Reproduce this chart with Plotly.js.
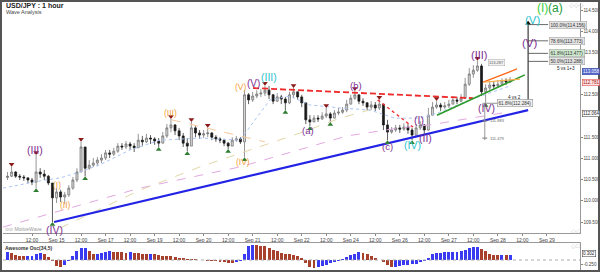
<!DOCTYPE html>
<html><head><meta charset="utf-8">
<script src="https://cdn.plot.ly/plotly-3.0.1.min.js"></script>
<style>html,body{margin:0;padding:0;background:#fff;}#chart{width:600px;height:272px;}</style>
</head><body><div id="chart"></div>
<script>
// ---------- DATA ----------
const tickIndex = [6,12,18,24,30,36,42,48,54,60,66,72,78,84,90,96,102,108,114,120,126,132];
const tickLabels = ['12:00','Sep 15','12:00','Sep 17','12:00','Sep 19','12:00','Sep 20','12:00','Sep 21','12:00','Sep 22','12:00','Sep 24','12:00','Sep 26','12:00','Sep 27','12:00','Sep 28','12:00','Sep 29'];
const priceTicks = [109.5,110,110.5,111,111.5,112.5,113.5,114,114.5];
const priceTickLabels = ['109.500','110.000','110.500','111.000','111.500','112.500','113.500','114.000','114.500'];

const firstOpen = 110.55;
const closes = [110.58,110.68,110.58,110.56,110.54,110.49,110.44,110.68,110.63,110.58,
 110.42,110.07,110.21,110.09,110.14,110.30,110.49,110.68,111.27,110.77,
 110.84,110.89,110.96,111.01,111.13,111.10,111.17,111.29,111.27,111.34,
 111.29,111.25,111.43,111.39,111.48,111.46,111.41,111.36,111.53,111.72,
 111.79,111.65,111.53,111.36,111.29,111.72,111.60,111.55,111.58,111.60,
 111.50,111.46,111.43,111.36,111.29,111.43,111.46,111.39,112.50,112.38,
 112.47,112.52,112.54,112.61,112.50,112.35,112.45,112.40,112.31,112.50,
 112.57,112.45,112.31,111.91,111.86,111.95,111.93,112.00,112.05,111.95,
 112.07,112.09,112.14,112.28,112.42,112.50,112.35,112.31,112.21,112.26,
 112.19,112.28,111.79,111.62,111.67,111.72,111.69,111.74,111.67,111.55,
 111.72,111.79,111.67,112.02,112.21,112.26,112.21,112.24,112.28,112.38,
 112.35,112.42,112.75,112.99,113.08,113.18,112.57,112.66,112.73,112.71,
 112.75,112.83,112.80,112.85];
const highs = [110.68,110.80,110.70,110.63,110.61,110.56,110.54,111.08,110.77,110.73,
 110.61,110.42,110.30,110.26,110.21,110.37,110.56,110.77,111.39,111.27,
 110.96,111.01,111.03,111.10,111.20,111.20,111.25,111.36,111.36,111.41,
 111.39,111.36,111.58,111.53,111.58,111.55,111.50,111.48,111.62,111.81,
 111.93,111.81,111.72,111.60,111.48,111.86,111.76,111.67,111.67,111.72,
 111.62,111.55,111.50,111.46,111.39,111.50,111.53,111.50,112.61,112.54,
 112.57,112.61,112.64,112.71,112.71,112.52,112.54,112.50,112.45,112.57,
 112.66,112.57,112.50,112.31,112.02,112.02,112.02,112.09,112.19,112.09,
 112.14,112.19,112.21,112.38,112.50,112.59,112.50,112.42,112.33,112.35,
 112.33,112.38,112.28,111.91,111.74,111.79,111.79,111.83,111.81,111.72,
 111.81,111.88,111.81,112.19,112.33,112.35,112.31,112.33,112.38,112.47,
 112.45,112.52,112.90,113.13,113.20,113.30,113.23,112.75,112.83,112.80,
 112.85,112.89,112.89,112.92];
const lows = [110.49,110.56,110.54,110.49,110.47,110.42,110.37,110.30,110.54,110.49,
 110.37,109.50,109.95,109.97,109.92,110.09,110.26,110.44,110.68,110.58,
 110.73,110.80,110.82,110.89,110.96,111.01,111.06,111.13,111.20,111.22,
 111.20,111.15,111.25,111.29,111.36,111.34,111.32,111.27,111.36,111.48,
 111.62,111.55,111.43,111.27,111.17,111.29,111.50,111.46,111.48,111.50,
 111.43,111.39,111.36,111.29,111.22,111.32,111.39,111.34,111.03,112.28,
 112.33,112.42,112.45,112.47,112.40,112.28,112.33,112.28,112.14,112.28,
 112.42,112.38,112.21,111.81,111.76,111.86,111.86,111.91,111.95,111.86,
 111.95,112.02,112.05,112.09,112.28,112.38,112.28,112.24,112.14,112.14,
 112.12,112.14,111.67,111.43,111.58,111.62,111.60,111.65,111.58,111.43,
 111.53,111.67,111.55,111.65,112.09,112.17,112.12,112.17,112.19,112.28,
 112.28,112.33,112.40,112.71,112.90,113.04,112.47,112.31,112.61,112.64,
 112.66,112.73,112.73,112.78];

const aoValues = [0.50,0.45,0.30,0.25,0.22,0.24,0.26,0.40,0.44,0.38,
 0.20,-0.05,-0.35,-0.44,-0.30,-0.05,0.25,0.55,0.72,0.75,
 0.55,0.35,0.38,0.45,0.52,0.56,0.52,0.48,0.47,0.46,
 0.47,0.45,0.42,0.40,0.38,0.38,0.36,0.30,0.27,0.24,
 0.22,0.18,0.14,0.12,0.08,0.07,0.06,0.03,-0.02,-0.05,
 -0.06,-0.08,-0.10,-0.13,-0.17,-0.19,-0.12,-0.04,0.40,0.85,
 0.94,0.93,0.90,0.85,0.75,0.65,0.58,0.45,0.40,0.37,
 0.33,0.25,0.15,-0.20,-0.45,-0.50,-0.46,-0.40,-0.30,-0.20,
 -0.12,-0.05,0.05,0.20,0.31,0.40,0.48,0.45,0.35,0.25,
 0.12,0.02,-0.10,-0.30,-0.44,-0.42,-0.38,-0.34,-0.30,-0.28,
 -0.22,-0.15,-0.08,0.10,0.35,0.44,0.45,0.48,0.50,0.50,
 0.52,0.55,0.62,0.72,0.80,0.84,0.70,0.55,0.40,0.33,
 0.31,0.31,0.30,0.30];

// swing markers (bar indices)
const swingHighIdx = [1,7,18,40,45,49,63,70,78,85,91,105,115];
const swingLowIdx = [7,11,19,37,44,54,58,68,74,79,93,99,117];

// drawn lines (bar index, price)
const blueTrendX = [11.4, 127.4], blueTrendY = [109.50, 112.14];
const redDashX = [60.1, 113.9], redDashY = [112.66, 112.42];
const redDotX = [90.6, 99.2], redDotY = [112.38, 111.74];
const greenLineX = [105.1, 126.6], greenLineY = [112.02, 112.97];
const orangeLineX = [116.4, 124.7], orangeLineY = [112.80, 113.11];
const lightOrangeX = [116.8, 125.4], lightOrangeY = [112.80, 112.87];
const peachDashX = [40.2, 63.0], peachDashY = [111.91, 111.39];
const pinkMaX = [-1.1, 32.4, 56.9, 71.6, 83.1, 96.0, 103.4, 122.2];
const pinkMaY = [109.38, 110.30, 110.80, 111.20, 111.53, 111.72, 111.79, 112.09];
const beigeMaX = [12.9, 32.4, 47.1, 61.8, 71.6, 81.4, 91.1];
const beigeMaY = [109.36, 110.25, 110.80, 111.27, 111.60, 111.95, 112.21];
const blueMaX = [-1.1, 8.0, 12.9, 17.7, 22.6, 30.0, 37.3, 47.1, 56.9, 60.6, 64.2, 69.1, 74.0, 81.4, 88.7, 94.8, 100.9, 105.8, 113.2, 123.0];
const blueMaY = [110.30, 110.47, 110.54, 110.68, 110.85, 111.20, 111.43, 111.48, 111.43, 111.91, 112.38, 112.47, 112.26, 112.19, 112.14, 111.95, 111.95, 112.09, 112.38, 112.71];

// Fibonacci projection
const fibLevels = [114.156, 113.773, 113.477, 113.288];
const fibTexts = ['100.0%(114.156)', '78.6%(113.773)', '61.8%(113.477)', '50.0%(113.288)'];
const measureX = 127.4, measureTop = 114.19, measureBottom = 112.38;

// ---------- BUILD ----------
const idx = closes.map((_, i) => i);
const opens = closes.map((c, i) => i === 0 ? firstOpen : closes[i - 1]);
const hi = highs.map((h, i) => Math.max(h, opens[i], closes[i]));
const lo = lows.map((l, i) => Math.min(l, opens[i], closes[i]));
const aoColors = aoValues.map((v, i) => (i === 0 || v >= aoValues[i - 1]) ? '#3a3af0' : '#a8402e');

const px = x => (x - 3) / 577;
const py = y => (270 - y) / 267;
const FONT = 'Liberation Sans, Arial, sans-serif';

function line(x, y, color, width, dash) {
  return {type: 'scatter', mode: 'lines', x: x, y: y, xaxis: 'x', yaxis: 'y',
    line: {color: color, width: width, dash: dash || 'solid'}, hoverinfo: 'skip', showlegend: false};
}

const traces = [
  line(pinkMaX, pinkMaY, '#e2a8e2', 1, 'dash'),
  line(beigeMaX, beigeMaY, '#e0d7a8', 1, 'dash'),
  line(blueMaX, blueMaY, '#a9c4f5', 1, 'dot'),
  line(peachDashX, peachDashY, '#f6c89a', 1, 'dash'),
  {type: 'candlestick', x: idx, open: opens, high: hi, low: lo, close: closes, xaxis: 'x', yaxis: 'y',
    increasing: {line: {color: '#6a6a6a', width: 0.7}, fillcolor: '#d6d6d6'},
    decreasing: {line: {color: '#1a1a1a', width: 0.7}, fillcolor: '#1a1a1a'},
    whiskerwidth: 0, hoverinfo: 'skip', showlegend: false},
  line(blueTrendX, blueTrendY, '#2323e6', 2.2),
  line(redDashX, redDashY, '#ee2a2a', 1.8, '6px,3px'),
  line(redDotX, redDotY, '#ee3333', 1.4, 'dot'),
  line(greenLineX, greenLineY, '#2a9a2a', 1.6),
  line(orangeLineX, orangeLineY, '#ff6a1a', 1.3),
  line(lightOrangeX, lightOrangeY, '#f5b04a', 1.3),
  {type: 'scatter', mode: 'markers', x: swingHighIdx, y: swingHighIdx.map(i => hi[i] + 0.06), xaxis: 'x', yaxis: 'y',
    marker: {symbol: 'triangle-down', size: 5, color: '#8b1a1a'}, hoverinfo: 'skip', showlegend: false},
  {type: 'scatter', mode: 'markers', x: swingLowIdx, y: swingLowIdx.map(i => lo[i] - 0.06), xaxis: 'x', yaxis: 'y',
    marker: {symbol: 'triangle-up', size: 5, color: '#2e7d32'}, hoverinfo: 'skip', showlegend: false},
  // measurement vertical line
  line([measureX, measureX], [measureTop, measureBottom], '#111', 1),
  line([measureX - 0.9, measureX + 0.9], [measureBottom, measureBottom], '#111', 1),
  {type: 'scatter', mode: 'markers', x: [measureX], y: [measureTop], xaxis: 'x', yaxis: 'y',
    marker: {symbol: 'triangle-up', size: 5, color: '#111'}, hoverinfo: 'skip', showlegend: false},
  // small fib retracement tool
  line([116.8, 116.8], [112.30, 111.43], '#999', 1),
  line([116.2, 117.4], [111.883, 111.883], '#777', 1),
  line([116.2, 117.4], [111.479, 111.479], '#777', 1),
  line([116.2, 120.2], [112.30, 112.30], '#777', 0.8),
  {type: 'bar', x: idx, y: aoValues, xaxis: 'x2', yaxis: 'y2', marker: {color: aoColors, line: {width: 0}},
    width: 0.72, hoverinfo: 'skip', showlegend: false}
];
fibLevels.forEach(v => traces.push(line([measureX, 132.3], [v, v], '#444', 0.8)));

const ann = [];
function A(text, x, y, color, size, extra) {
  ann.push(Object.assign({text: text, x: x, y: y, xref: 'x', yref: 'y', showarrow: false,
    font: {family: FONT, size: size, color: color}}, extra || {}));
}
function P(text, x, y, color, size, extra) {
  ann.push(Object.assign({text: text, x: px(x), y: py(y), xref: 'paper', yref: 'paper', showarrow: false,
    xanchor: 'left', yanchor: 'middle', font: {family: FONT, size: size, color: color}}, extra || {}));
}
// wave labels
const OR = '#f2a23a', PU = '#7d2f8f', CY = '#2fc3cf';
A('(I)', 12.1, 110.37, OR, 8.5); A('(II)', 14.1, 109.90, OR, 8.5); A('(III)', 39.8, 112.07, OR, 8.5);
A('(IV)', 57.6, 110.92, OR, 8.5); A('(V)', 57.2, 112.68, OR, 8.5);
A('(III)', 6.7, 111.20, PU, 10.5); A('(IV)', 11.4, 109.31, PU, 10.5); A('(V)', 60.2, 112.76, PU, 10);
A('(a)', 73.5, 111.67, PU, 9.5); A('(b)', 85.3, 112.73, PU, 9.5); A('(c)', 93.1, 111.27, PU, 9.5);
A('(I)', 100.7, 111.91, PU, 10.5); A('(II)', 102.2, 111.48, PU, 10.5); A('(III)', 115.6, 113.44, PU, 11);
A('(IV)', 117.1, 112.19, PU, 10.5); A('(V)', 127.8, 113.72, PU, 11.5);
A('(III)', 64.0, 112.92, CY, 10.5); A('(IV)', 99.2, 111.32, CY, 10.5); A('(V)', 128.6, 114.26, CY, 11.5);
A('(I)', 131.0, 114.55, '#3ccf3c', 12); A('(a)', 134.2, 114.55, '#1f9a3a', 12);
// fib boxes
fibTexts.forEach((t, k) => A(t, 132.4, fibLevels[k], '#333', 4.6,
  {xanchor: 'left', bgcolor: k === 2 ? '#cfe9cf' : '#e4e4e4', bordercolor: '#999', borderwidth: 0.5, borderpad: 1}));
A('61.8%(112.284)', 119.8, 112.30, '#333', 4.6, {xanchor: 'left', bgcolor: '#f0f0f0', bordercolor: '#888', borderwidth: 0.5, borderpad: 1});
A('111.883', 117.5, 111.883, '#666', 4, {xanchor: 'left'});
A('111.479', 117.5, 111.479, '#666', 4, {xanchor: 'left'});
A('113.287', 117.6, 113.27, '#555', 4, {xanchor: 'left', bgcolor: '#f2f2f2', bordercolor: '#aaa', borderwidth: 0.5, borderpad: 0.5});
A('5 vs 1+3', 139.4, 113.13, '#222', 4.6, {xanchor: 'right'});
A('4 vs 2', 126.2, 112.44, '#222', 4.6, {xanchor: 'right'});
// right axis value boxes
function R(text, y, yref, fc, bg, bc) {
  ann.push({text: text, x: 1.003, y: y, xref: 'paper', yref: yref, xanchor: 'left', showarrow: false,
    font: {family: FONT, size: 4.5, color: fc}, bgcolor: bg, bordercolor: bc, borderwidth: 0.5, borderpad: 0.5});
}
R('113.058', 113.06, 'y', '#fff', '#5566cc', '#334499');
R('112.781', 112.78, 'y', '#a01010', '#ffe4e4', '#d33');
R('112.064', 112.064, 'y', '#222', '#fff', '#333');
R('0.302', 0.38, 'y2', '#222', '#fff', '#333');
// header texts
P('<b>USD/JPY : 1 hour</b>', 4, 5.5, '#222', 7);
P('Wave Analysis', 4, 12, '#444', 5.5);
P('⊙⊙ MotiveWave', 3, 229, '#9a9a9a', 5);
P('<b>Awesome Osc(34,5)</b>', 3, 247.5, '#333', 5);
P('◇◇◇', 567, 5, '#bbb', 6);
P('◇◇', 569, 231, '#bbb', 6);
P('◇□', 569, 246, '#bbb', 6);

const layout = {
  width: 600, height: 272,
  margin: {l: 3, r: 20, t: 3, b: 2},
  paper_bgcolor: '#fff', plot_bgcolor: '#fff',
  font: {family: FONT, size: 5, color: '#333'},
  showlegend: false, bargap: 0,
  xaxis: {domain: [0, 1], range: [-1.1, 140.1], anchor: 'y', showgrid: false, zeroline: false,
    tickvals: tickIndex, ticktext: tickLabels, ticks: 'outside', ticklen: 2, tickcolor: '#888',
    tickfont: {family: FONT, size: 5, color: '#444'}, showline: true, linecolor: '#999', linewidth: 1,
    rangeslider: {visible: false}, fixedrange: true},
  yaxis: {domain: [0.1386, 1], range: [109.241, 114.665], side: 'right', anchor: 'x', showgrid: false, zeroline: false,
    tickvals: priceTicks, ticktext: priceTickLabels, ticks: 'outside', ticklen: 1.5, tickcolor: '#888',
    tickfont: {family: FONT, size: 4.6, color: '#444'}, showline: true, linecolor: '#999', linewidth: 1},
  xaxis2: {domain: [0, 1], range: [-1.1, 140.1], anchor: 'y2', showgrid: false, zeroline: false,
    showticklabels: false, ticks: '', showline: true, mirror: true, linecolor: '#999', linewidth: 1},
  yaxis2: {domain: [0, 0.1011], range: [-0.625, 1.0625], side: 'right', anchor: 'x2', showgrid: false, zeroline: false,
    tickvals: [-0.25], ticktext: ['-0.250'], ticks: 'outside', ticklen: 1.5, tickcolor: '#888',
    tickfont: {family: FONT, size: 4.6, color: '#444'}, showline: true, linecolor: '#999', linewidth: 1},
  shapes: [
    {type: 'line', xref: 'paper', yref: 'y2', x0: 0, x1: 1, y0: 0, y1: 0, line: {color: '#aaa', width: 1, dash: 'dot'}},
    {type: 'rect', xref: 'paper', yref: 'paper', x0: px(1), x1: px(599), y0: py(271), y1: py(1),
      line: {color: '#555', width: 2}, fillcolor: 'rgba(0,0,0,0)'}
  ],
  annotations: ann
};

Plotly.newPlot('chart', traces, layout, {staticPlot: true, displayModeBar: false});
</script>
</body></html>
